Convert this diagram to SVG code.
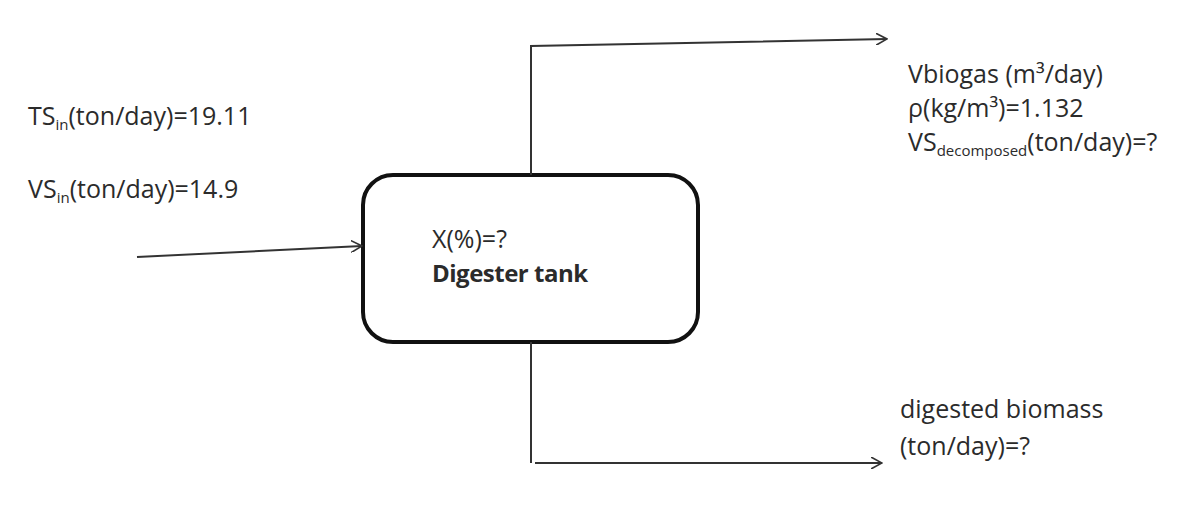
<svg xmlns="http://www.w3.org/2000/svg" width="1203" height="531" viewBox="0 0 1203 531">
<style>
text{font-family:"Open Sans","Liberation Sans",sans-serif;font-size:25px;fill:#2b2b2b}
.b{font-weight:bold;font-size:24px;letter-spacing:-0.5px}
.sub{font-size:15px}
.c{fill:none;stroke:#333;stroke-width:2}
</style>
<defs>
<marker id="ah" viewBox="0 0 12 12" refX="11" refY="6" markerWidth="12" markerHeight="12" markerUnits="userSpaceOnUse" orient="auto">
<path d="M0,0 L11,6 L0,12" fill="none" stroke="#333" stroke-width="1.6"/>
</marker>
</defs>
<rect width="1203" height="531" fill="#fff"/>
<g id="labels-in">
<text x="28" y="125">TS<tspan class="sub" dy="5">in</tspan><tspan dy="-5">(ton/day)=19.11</tspan></text>
<text x="28" y="198">VS<tspan class="sub" dy="5">in</tspan><tspan dy="-5">(ton/day)=14.9</tspan></text>
</g>
<g id="digester">
<rect x="363" y="175" width="335" height="167" rx="30" fill="#fff" stroke="#111" stroke-width="4"/>
<text x="432" y="248">X(%)=?</text>
<text x="432" y="282" class="b">Digester tank</text>
</g>
<g id="labels-biogas">
<text x="908" y="83">Vbiogas (m³/day)</text>
<text x="908" y="117">ρ(kg/m³)=1.132</text>
<text x="908" y="151">VS<tspan class="sub" dy="5">decomposed</tspan><tspan dy="-5">(ton/day)=?</tspan></text>
</g>
<g id="labels-digestate">
<text x="900" y="418">digested biomass</text>
<text x="900" y="455">(ton/day)=?</text>
</g>
<g id="connectors">
<path class="c" d="M137,257 L362,246" marker-end="url(#ah)"/>
<path class="c" d="M531,175 L531,46 L887,39" marker-end="url(#ah)"/>
<path class="c" d="M531,342 L531,463 M535,463 L882,463" marker-end="url(#ah)"/>
</g>
</svg>
